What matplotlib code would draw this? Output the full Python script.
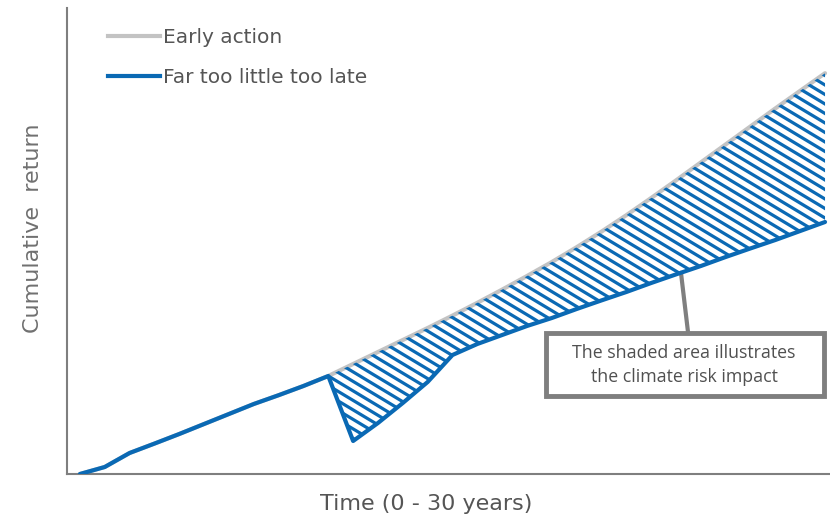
import matplotlib
matplotlib.use('Agg')
import matplotlib.pyplot as plt
import numpy as np
from matplotlib.collections import LineCollection
from matplotlib.lines import Line2D
from matplotlib.patches import Polygon, Rectangle

# years 0..30, cumulative return in arbitrary units
years = list(range(31))
early_action = [0, 1.75, 5.25, 7.6, 10, 12.5, 15, 17.5, 19.7, 22, 24.5,
                27.5, 30.5, 33.5, 36.5, 39.6, 42.8, 46.1, 49.5, 53.0, 56.7,
                60.6, 64.7, 69.0, 73.4, 77.9, 82.4, 86.9, 91.4, 95.8, 100.2]
too_late = [0, 1.75, 5.25, 7.6, 10, 12.5, 15, 17.5, 19.7, 22, 24.5,
            8.25, 12.75, 17.75, 23, 29.75, 32.5, 34.75, 37, 39, 41.25,
            43.4, 45.5, 47.75, 49.9, 52, 54.25, 56.4, 58.5, 60.75, 63]
shock_year = 10
labels = ['Early action', 'Far too little too late']
note = 'The shaded area illustrates\nthe climate risk impact'

BLUE = '#0a69b4'
GREY = '#c3c3c3'
AXIS = '#7f7f7f'

W, H = 830, 515
fig = plt.figure(figsize=(W / 100, H / 100), dpi=100)
ax = fig.add_axes([67 / W, (H - 474) / H, (W - 67) / W, (474 - 8) / H])

ax.plot(years, early_action, color=GREY, lw=3, solid_capstyle='round',
        solid_joinstyle='round', zorder=2)
ax.plot(years, too_late, color=BLUE, lw=3, solid_capstyle='round',
        solid_joinstyle='round', zorder=4)

# hatched gap between the two paths after the shock
x = np.array(years[shock_year:], dtype=float)
top = np.array(early_action[shock_year:])
bot = np.array(too_late[shock_year:])
verts = np.vstack([np.column_stack([x, top]), np.column_stack([x[::-1], bot[::-1]])])
gap = Polygon(verts, closed=True, facecolor='none', edgecolor='none')
ax.add_patch(gap)

# stripes drawn in data units with a fixed on-screen slope
xpx = 30 / 745        # years per pixel
ypx = 0.25            # units per pixel
slope = -0.6 * ypx / xpx
step = 9.5 * ypx
segs = []
for c in np.arange(0, 260, step):
    segs.append([(9, c + slope * 9), (31, c + slope * 31)])
stripes = LineCollection(segs, colors=BLUE, linewidths=2.3, zorder=3)
ax.add_collection(stripes)
stripes.set_clip_path(gap)

ax.set_xlim(-0.52, 30.2)
ax.set_ylim(0, 116.5)
for side in ['top', 'right']:
    ax.spines[side].set_visible(False)
for side in ['left', 'bottom']:
    ax.spines[side].set_color(AXIS)
    ax.spines[side].set_linewidth(1.5)
ax.set_xticks([])
ax.set_yticks([])

fig.text(426 / W, 1 - 504 / H, 'Time (0 - 30 years)', ha='center', va='center',
         fontsize=16, color='#555555', family=['DejaVu Sans'])
fig.text(33 / W, 1 - 228 / H, 'Cumulative  return', ha='center', va='center',
         rotation=90, fontsize=16, color='#707070',
         family=['Liberation Sans Narrow', 'DejaVu Sans'])

handles = [Line2D([], [], color=GREY, lw=3), Line2D([], [], color=BLUE, lw=3)]
ax.legend(handles, labels, loc='upper left', bbox_to_anchor=(108 / W, 1 - 28 / H),
          bbox_transform=fig.transFigure, frameon=False, borderpad=0,
          borderaxespad=0, handlelength=2.6, handletextpad=0.15, labelspacing=1.04,
          prop={'family': 'DejaVu Sans', 'size': 14.5}, labelcolor='#555555')

# callout box with a leader to the lower path
box = Rectangle((545.5 / W, 1 - 395.5 / H), 278 / W, 63 / H, transform=fig.transFigure,
                facecolor='white', edgecolor=AXIS, lw=3.5, zorder=5)
fig.add_artist(box)
fig.text(684 / W, 1 - 365 / H, note, ha='center', va='center', fontsize=12.8,
         color='#505050', linespacing=1.45, family=['Open Sans', 'DejaVu Sans'],
         zorder=6)
ax.annotate('', xy=(24.2, 50.3), xycoords='data', xytext=(688 / W, 1 - 332 / H),
            textcoords='figure fraction',
            arrowprops=dict(arrowstyle='-', color=AXIS, lw=3, shrinkA=0, shrinkB=0))

fig.savefig('out.png', dpi=100)
